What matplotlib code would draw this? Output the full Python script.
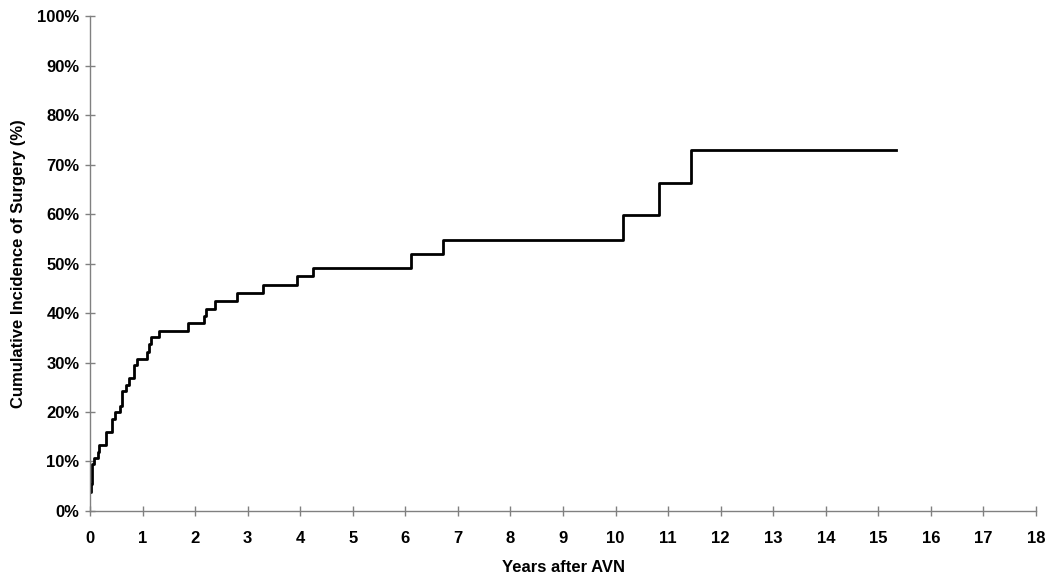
import matplotlib
matplotlib.use("Agg")
import matplotlib.pyplot as plt
from matplotlib.ticker import FuncFormatter, MultipleLocator

plt.rcParams['font.family'] = ['Liberation Sans', 'DejaVu Sans']

# years after AVN at which the curve steps up, and the cumulative incidence (%) from there on
years = [0, 0.01, 0.04, 0.08, 0.15, 0.17, 0.30, 0.42, 0.48, 0.58, 0.61, 0.69, 0.75,
         0.84, 0.90, 1.09, 1.12, 1.16, 1.31, 1.87, 2.17, 2.20, 2.37, 2.79, 3.30,
         3.94, 4.24, 6.11, 6.71, 10.14, 10.83, 11.44, 15.33]
incidence = [3.9, 5.5, 9.4, 10.7, 11.9, 13.3, 15.9, 18.6, 20.0, 21.3, 24.2, 25.5, 26.8,
             29.4, 30.8, 32.1, 33.7, 35.1, 36.4, 38.0, 39.5, 40.9, 42.5, 44.0, 45.6,
             47.4, 49.1, 51.9, 54.8, 59.8, 66.3, 72.9, 72.9]

fig = plt.figure(figsize=(10.5, 5.78), dpi=100)
ax = fig.add_axes([0.0857, 0.116, 0.901, 0.856])

ax.step(years, incidence, where='post', color='black', lw=2.0)

ax.set_xlim(0, 18)
ax.set_ylim(0, 100)
ax.xaxis.set_major_locator(MultipleLocator(1))
ax.yaxis.set_major_locator(MultipleLocator(10))
ax.yaxis.set_major_formatter(FuncFormatter(lambda v, p: '%d%%' % v))

for s in ['top', 'right']:
    ax.spines[s].set_visible(False)
for s in ['left', 'bottom']:
    ax.spines[s].set_color('#808080')
    ax.spines[s].set_linewidth(1.0)

ax.tick_params(direction='inout', length=7, width=1.0, color='#808080',
               labelsize=12, pad=4)
ax.tick_params(axis='x', pad=11)
for lab in ax.get_xticklabels() + ax.get_yticklabels():
    lab.set_fontweight('bold')

ax.set_xlabel('Years after AVN', fontsize=12, fontweight='bold', labelpad=10)
ax.set_ylabel('Cumulative Incidence of Surgery (%)', fontsize=12, fontweight='bold', labelpad=8)

fig.savefig('out.png', dpi=100)
